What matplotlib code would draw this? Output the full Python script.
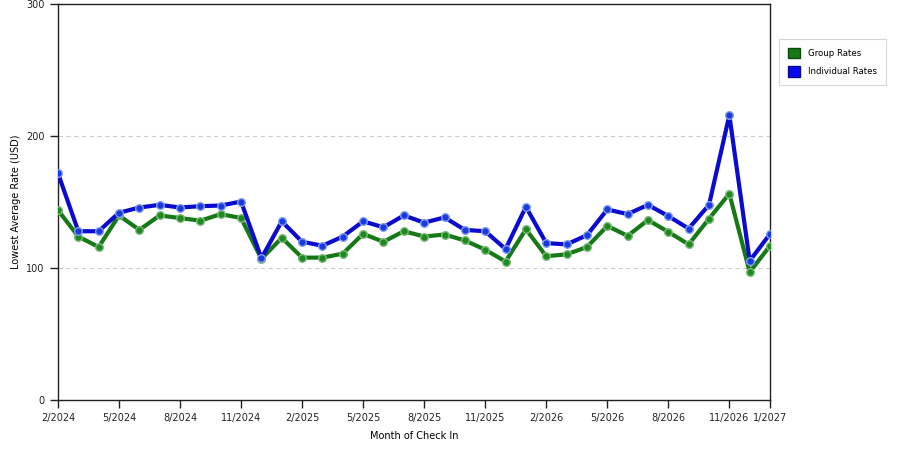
import matplotlib
matplotlib.use('Agg')
import matplotlib.pyplot as plt
from matplotlib.patches import Patch

# monthly check-in months, 2/2024 .. 1/2027
months = ['2/2024', '3/2024', '4/2024', '5/2024', '6/2024', '7/2024', '8/2024', '9/2024',
          '10/2024', '11/2024', '12/2024', '1/2025', '2/2025', '3/2025', '4/2025', '5/2025',
          '6/2025', '7/2025', '8/2025', '9/2025', '10/2025', '11/2025', '12/2025', '1/2026',
          '2/2026', '3/2026', '4/2026', '5/2026', '6/2026', '7/2026', '8/2026', '9/2026',
          '10/2026', '11/2026', '12/2026', '1/2027']

group_rates = [144, 124, 116, 140, 129, 140, 138, 136, 141, 138, 107, 123, 108, 108, 111, 126,
               120, 128, 124, 125.5, 121, 114, 105, 129.5, 109, 110.5, 116, 132, 124.5, 136.5,
               127.5, 118, 137.5, 156.5, 97, 117]

individual_rates = [172, 128, 128, 142, 146, 148, 146, 147, 147.5, 150.5, 107.5, 135.5, 120, 117,
                    124, 135.5, 131, 140, 134.5, 138.5, 129, 128, 114.5, 146.5, 119, 118, 125,
                    144.5, 141, 148, 139.5, 130, 148, 216, 105.5, 126]

tick_labels = ['2/2024', '5/2024', '8/2024', '11/2024', '2/2025', '5/2025', '8/2025',
               '11/2025', '2/2026', '5/2026', '8/2026', '11/2026', '1/2027']

x = list(range(len(months)))
tick_pos = [months.index(t) for t in tick_labels]

fig = plt.figure(figsize=(9, 4.5), dpi=100)
ax = fig.add_axes([0.0644, 0.1111, 0.7912, 0.879])

ax.plot(x, group_rates, color='#157a15', lw=3, marker='o', ms=5.5,
        markerfacecolor='#1e8a1e', markeredgecolor='#7fb87f', markeredgewidth=1, zorder=3)
ax.plot(x, individual_rates, color='#0a0ad0', lw=3, marker='o', ms=5.5,
        markerfacecolor='#1a3ae0', markeredgecolor='#7f9fef', markeredgewidth=1, zorder=4)

ax.set_xlim(0, len(months) - 1)
ax.set_ylim(0, 300)
ax.set_yticks([0, 100, 200, 300])
ax.set_xticks(tick_pos)
ax.set_xticklabels(tick_labels)
ax.tick_params(axis='both', labelsize=7, length=6, width=1, direction='out', colors='#222222')
ax.tick_params(axis='x', pad=3)

for y in [100, 200]:
    ax.axhline(y, color='#cccccc', lw=0.8, ls=(0, (4, 3)), zorder=1)

for s in ax.spines.values():
    s.set_color('#222222')
    s.set_linewidth(1)

ax.set_xlabel('Month of Check In', fontsize=7, labelpad=6)
ax.set_ylabel('Lowest Average Rate (USD)', fontsize=7, labelpad=4)

handles = [Patch(facecolor='#157a15', edgecolor='#0a4a0a', label='Group Rates'),
           Patch(facecolor='#0a0af0', edgecolor='#0a0a80', label='Individual Rates')]
leg = fig.legend(handles=handles, loc='upper left', bbox_to_anchor=(0.8656, 0.913),
                 fontsize=6.2, frameon=True, fancybox=False, handlelength=1.4,
                 handleheight=1.5, borderpad=1.0, labelspacing=0.9, handletextpad=1.0,
                 borderaxespad=0)
leg.get_frame().set_edgecolor('#cccccc')
leg.get_frame().set_linewidth(0.8)

fig.savefig('out.png', dpi=100)
